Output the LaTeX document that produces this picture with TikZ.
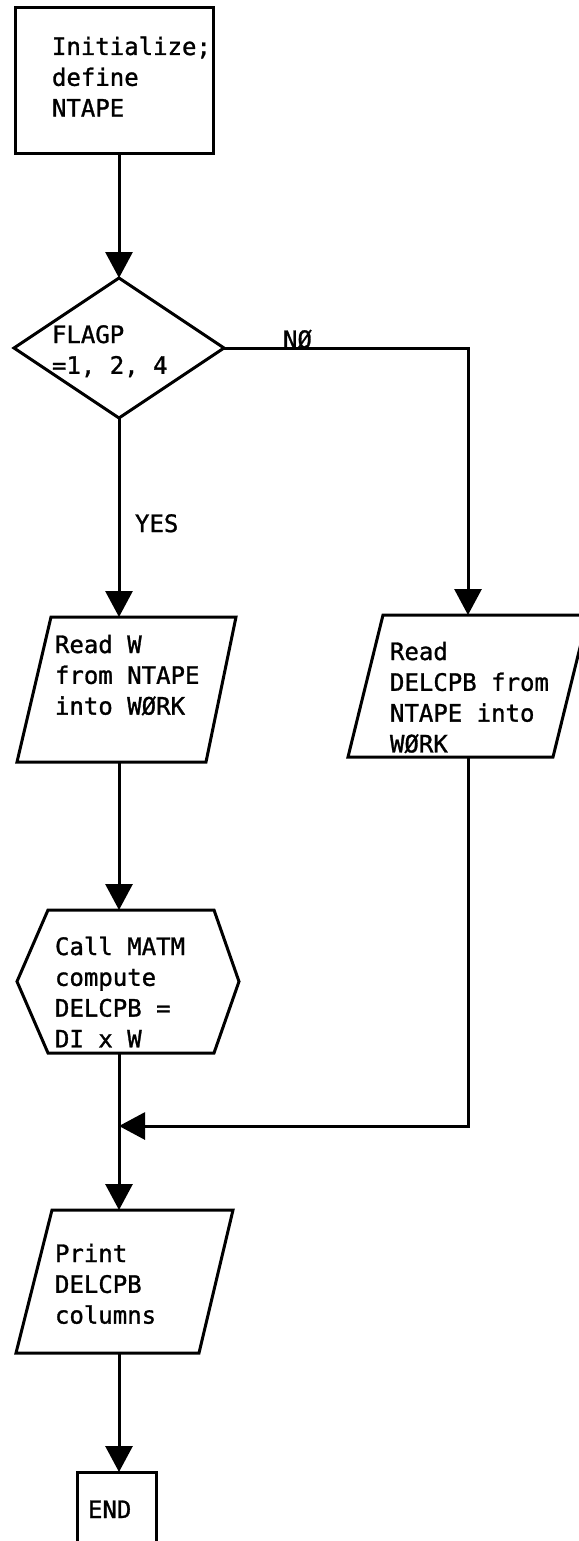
\documentclass[tikz,border=0pt]{standalone}
\usepackage{fontspec}
\newfontfamily\tw[FakeBold=1.2]{DejaVu Sans Mono}
\usetikzlibrary{arrows.meta,calc}

\begin{document}
\begin{tikzpicture}[x=0.5pt,y=-0.5pt,
  flow/.style={line width=1.5pt, line join=miter},
  arr/.style={flow, -{Triangle[length=13pt,width=13.5pt]}},
  frame/.style={draw=none, rectangle, inner sep=0pt, outer sep=0pt},
  box/.style={frame, draw, line width=1.5pt},
  txt/.style={anchor=north west, inner sep=0pt, outer sep=0pt, align=left,
              font=\tw\fontsize{12}{15.4}\selectfont},
  lbl/.style={anchor=base west, inner sep=0pt, outer sep=0pt,
              font=\tw\fontsize{12}{15.4}\selectfont},
]
\useasboundingbox (0,0) rectangle (578,1541);

% --- blocks -------------------------------------------------------------
\node[box, minimum width=99pt, minimum height=72.5pt] (init) at (114,80.5) {};

\node[frame, minimum width=105pt, minimum height=70pt] (dec) at (119,348) {};
\draw[flow] (dec.north) -- (dec.east) -- (dec.south) -- (dec.west) -- cycle;

\node[frame, minimum width=109.5pt, minimum height=72.5pt] (rdW) at (126.5,689.5) {};
\draw[flow] ($(rdW.north west)+(34,0)$) -- (rdW.north east)
  -- ($(rdW.south east)-(30,0)$) -- (rdW.south west) -- cycle;

\node[frame, minimum width=120pt, minimum height=71pt] (rdD) at (468,686) {};
\draw[flow] ($(rdD.north west)+(35,0)$) -- (rdD.north east)
  -- ($(rdD.south east)-(35,0)$) -- (rdD.south west) -- cycle;

\node[frame, minimum width=111pt, minimum height=71.5pt] (hex) at (128,981.5) {};
\draw[flow] ($(hex.north west)+(31,0)$) -- ($(hex.north east)-(25,0)$)
  -- (hex.east) -- ($(hex.south east)-(25,0)$)
  -- ($(hex.south west)+(31,0)$) -- (hex.west) -- cycle;

\node[frame, minimum width=108.5pt, minimum height=71.5pt] (prt) at (124.5,1281.5) {};
\draw[flow] ($(prt.north west)+(36,0)$) -- (prt.north east)
  -- ($(prt.south east)-(34,0)$) -- (prt.south west) -- cycle;

\node[box, minimum width=39.5pt, minimum height=44pt] (end) at (116.5,1516) {};

\coordinate (merge) at (119,1126);

% --- texts --------------------------------------------------------------
\node[txt] (tInit) at (52,35) {\rule{0pt}{10pt}Initialize;\\define\\NTAPE};
\node[txt] (tDec) at (52,323) {\rule{0pt}{10pt}FLAGP\\=1, 2, 4};
\node[txt] (tRdW) at (55,633) {\rule{0pt}{10pt}Read W\\from NTAPE\\into WØRK};
\node[txt] (tRdD) at (390,640) {\rule{0pt}{10pt}Read\\DELCPB from\\NTAPE into\\WØRK};
\node[txt] (tHex) at (55,935) {\rule{0pt}{10pt}Call MATM\\compute\\DELCPB =\\DI x W};
\node[txt] (tPrt) at (55,1242) {\rule{0pt}{10pt}Print\\DELCPB\\columns};
\node[lbl] (tEnd) at (88,1518) {END};
\node[lbl] (tNo) at (283,348) {NØ};
\node[lbl] (tYes) at (135,532) {YES};

% --- connectors ---------------------------------------------------------
\draw[arr] (init.south -| dec.north) -- (dec.north);
\draw[arr] (dec.east) -| (rdD.north);
\draw[arr] (dec.south) -- (dec.south |- rdW.north);
\draw[arr] (dec.south |- rdW.south) -- (dec.south |- hex.north);
\draw[arr] (rdD.south) |- (merge);
\draw[flow] (dec.south |- hex.south) -- (merge);
\draw[arr] (merge) -- (merge |- prt.north);
\draw[arr] (merge |- prt.south) -- (merge |- end.north);
\end{tikzpicture}
\end{document}
